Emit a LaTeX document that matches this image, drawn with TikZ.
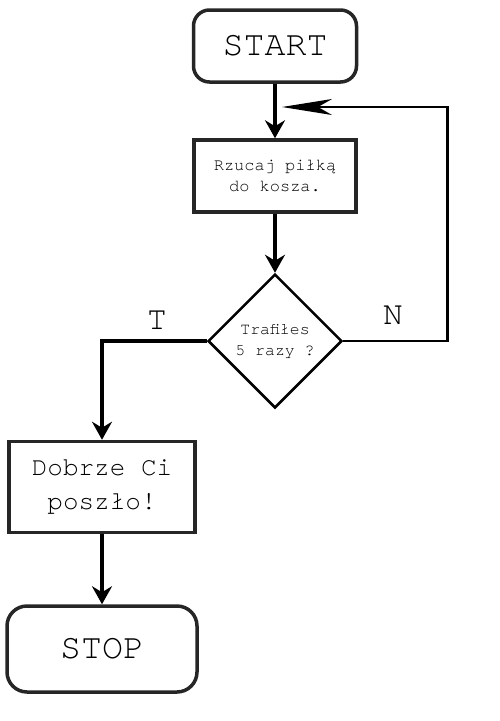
\documentclass[tikz,border=0pt]{standalone}
\usepackage{fontspec}
\newfontfamily\cursor{TeX Gyre Cursor}
\usetikzlibrary{shapes.geometric,arrows.meta}
\tikzset{
  term/.style={draw=black!85, line width=3.5pt, rounded corners=16pt, inner sep=0pt, font=\cursor\fontsize{35}{40}\selectfont},
  proc/.style={draw=black!85, line width=3.5pt, align=center, inner sep=0pt},
  decide/.style={diamond, draw=black, line width=2.5pt, aspect=1, minimum size=134pt, inner sep=0pt, align=center, font=\cursor\fontsize{16.5}{21}\selectfont},
  flow/.style={draw=black, line width=3.5pt, -{Stealth[length=18pt,width=20pt,inset=6pt]}},
  back/.style={draw=black, line width=2.5pt, -{Stealth[length=50pt,width=16pt,inset=14pt]}},
  lab/.style={font=\cursor\fontsize{33}{34}\selectfont},
}

\begin{document}
\begin{tikzpicture}[x=1pt,y=-1pt]
  \useasboundingbox (0,0) rectangle (500,721);
  \node[term, minimum width=163pt, minimum height=72pt] (start) at (275,46) {START};
  \node[proc, minimum width=162pt, minimum height=72pt, font=\cursor\fontsize{17}{21}\selectfont] (throw) at (275,176) {Rzucaj piłką\\do kosza.};
  \node[decide] (hit) at (275,341) {Trafiłes\\5 razy ?};
  \node[proc, minimum width=186pt, minimum height=91pt, font=\cursor\fontsize{26}{34}\selectfont] (good) at (102,487) {Dobrze Ci\\poszło!};
  \node[term, minimum width=190pt, minimum height=86pt, rounded corners=20pt] (stop) at (102,649) {STOP};
  \coordinate (backtip) at (282,107);
  % connectors
  \draw[flow] (start) -- (throw);
  \draw[flow] (throw) -- (hit);
  \draw[back] (hit.east) -- ++(104,0) |- (backtip);
  \draw[flow] (hit.west) -| (good.north);
  \draw[flow] (good) -- (stop);
  \node[lab] (yes) at (157,320) {T};
  \node[lab] (no) at (393,315) {N};
\end{tikzpicture}
\end{document}
